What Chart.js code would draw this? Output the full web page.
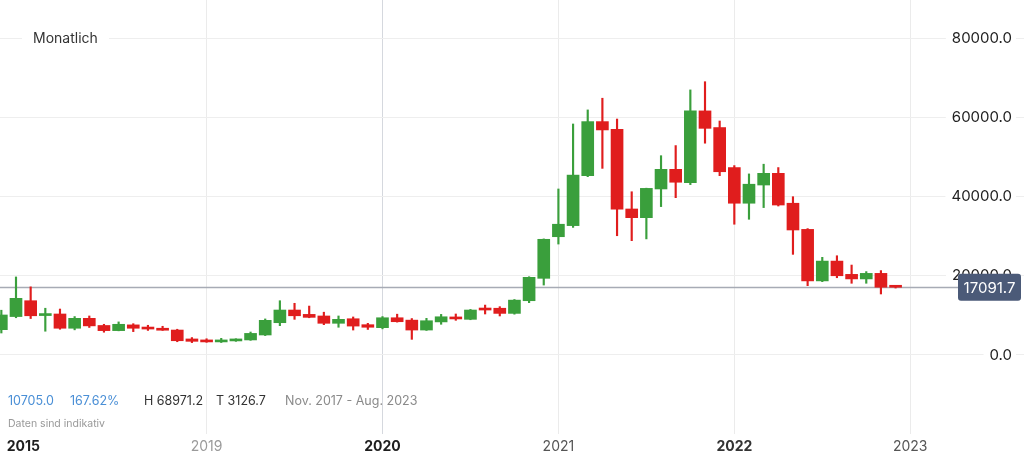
<!DOCTYPE html>
<html>
<head>
<meta charset="utf-8">
<script src="https://cdn.jsdelivr.net/npm/chart.js@4.4.0/dist/chart.umd.min.js"></script>
<style>
  html, body { margin: 0; padding: 0; background: #fff; }
  #wrap { position: relative; width: 1024px; height: 458px; font-family: Inter, 'Noto Sans', sans-serif; overflow: hidden; }
  #myChart { position: absolute; left: 0; top: 0; }
  .lbl { position: absolute; white-space: nowrap; line-height: 16px; }
</style>
</head>
<body>
<div id="wrap">
  <canvas id="myChart" width="1024" height="458"></canvas>
  <div class="lbl" style="left:22px;top:30px;padding:0 11px;background:#fff;font-size:14px;color:#333;">Monatlich</div>
  <div class="lbl" style="left:8px;top:393px;font-size:12.5px;color:#4a8fd6;">10705.0</div>
  <div class="lbl" style="left:70px;top:393px;font-size:12.5px;color:#4a8fd6;">167.62%</div>
  <div class="lbl" style="left:144px;top:393px;font-size:12.5px;color:#333;">H 68971.2</div>
  <div class="lbl" style="left:216px;top:393px;font-size:12.5px;color:#333;">T 3126.7</div>
  <div class="lbl" style="left:285px;top:393px;font-size:12.5px;color:#8a8a8a;">Nov. 2017 - Aug. 2023</div>
  <div class="lbl" style="left:8px;top:416px;font-size:10.5px;color:#999;">Daten sind indikativ</div>
</div>
<script>
// monthly candles, Nov 2017 - Dec 2022
var months = ['Nov 2017','Dec 2017',
  'Jan 2018','Feb 2018','Mar 2018','Apr 2018','May 2018','Jun 2018','Jul 2018','Aug 2018','Sep 2018','Oct 2018','Nov 2018','Dec 2018',
  'Jan 2019','Feb 2019','Mar 2019','Apr 2019','May 2019','Jun 2019','Jul 2019','Aug 2019','Sep 2019','Oct 2019','Nov 2019','Dec 2019',
  'Jan 2020','Feb 2020','Mar 2020','Apr 2020','May 2020','Jun 2020','Jul 2020','Aug 2020','Sep 2020','Oct 2020','Nov 2020','Dec 2020',
  'Jan 2021','Feb 2021','Mar 2021','Apr 2021','May 2021','Jun 2021','Jul 2021','Aug 2021','Sep 2021','Oct 2021','Nov 2021','Dec 2021',
  'Jan 2022','Feb 2022','Mar 2022','Apr 2022','May 2022','Jun 2022','Jul 2022','Aug 2022','Sep 2022','Oct 2022','Nov 2022','Dec 2022'];

var open = [6386.7, 9700,
  13700, 9950, 10350, 6750, 9250, 7450, 6150, 7600, 7050, 6700, 6300, 4050,
  3750, 3300, 3550, 3800, 5050, 8150, 11350, 10250, 9850, 8000, 9150, 7650,
  6900, 9400, 8800, 6300, 8350, 9600, 9000, 11700, 11800, 10500, 13700, 19350,
  29850, 32650, 45250, 58900, 56950, 36850, 34650, 41900, 46850, 43500, 61600, 57400,
  47300, 38300, 42900, 45850, 38300, 31700, 18700, 23700, 20350, 19200, 20600, 17350];

var high = [11300, 19700,
  17200, 11800, 11600, 9700, 9850, 7750, 8350, 7900, 7500, 7250, 6500, 4400,
  4100, 4200, 4100, 5800, 9100, 13700, 13050, 12350, 10800, 9850, 9600, 8000,
  9700, 10300, 9200, 9250, 10250, 10350, 11500, 12600, 12200, 14000, 19750, 29300,
  41900, 58300, 61850, 64800, 59550, 41200, 42100, 50300, 52850, 66900, 68971.2, 59050,
  47800, 45700, 48150, 47300, 39950, 31900, 24650, 25050, 22700, 21050, 21300, 17400];

var low = [5550, 9400,
  9200, 6000, 6500, 6350, 6950, 5750, 6100, 5900, 6200, 6200, 3350, 3126.7,
  3200, 3150, 3450, 3700, 4900, 7400, 9000, 9400, 7650, 7000, 6300, 6450,
  6600, 8300, 3950, 6200, 7750, 8750, 8900, 10350, 9850, 10300, 13200, 17650,
  28000, 32200, 45000, 47100, 30100, 28850, 29300, 37450, 39700, 43000, 53450, 45250,
  33000, 34250, 37200, 37600, 25400, 17500, 18500, 19500, 18100, 18100, 15400, 16900];

var close = [10100, 14300,
  9900, 10450, 6750, 9250, 7350, 6150, 7750, 6750, 6550, 6250, 3600, 3450,
  3300, 3800, 4050, 5450, 8750, 11350, 9900, 9500, 8000, 9000, 7300, 7000,
  9400, 8400, 6300, 8650, 9650, 9100, 11350, 11350, 10500, 13850, 19600, 29200,
  33000, 45400, 58900, 56800, 36800, 34650, 42050, 46850, 43600, 61600, 57200, 46250,
  38300, 43100, 45850, 37850, 31550, 18700, 23700, 20000, 19200, 20600, 17100, 17091.7];

// x axis labels (month index of each label)
var tickIndex = [1.5, 14, 26, 38, 50, 62];
var tickLabels = ['2015', '2019', '2020', '2021', '2022', '2023'];
var tickBold = [true, false, true, false, true, false];
var tickColors = ['#1e1e1e', '#9a9a9a', '#1e1e1e', '#555555', '#333333', '#555555'];

var yTicks = [0, 20000, 40000, 60000, 80000];
var lastPrice = 17091.7;

var green = '#3a9f3c';
var red = '#e01d1d';

var bodies = [];
var wicks = [];
var colors = [];
for (var i = 0; i < months.length; i++) {
    bodies.push({x: i, y: [open[i], close[i]]});
    wicks.push({x: i, y: [low[i], high[i]]});
    colors.push(close[i] >= open[i] ? green : red);
}

var fontFam = "Inter, 'Noto Sans', sans-serif";

var priceLine = {
    id: 'priceLine',
    beforeDatasetsDraw: function(chart) {
        var ctx = chart.ctx;
        var y = Math.round(chart.scales.y.getPixelForValue(lastPrice)) + 0.5;
        ctx.save();
        ctx.strokeStyle = '#a7abb5';
        ctx.lineWidth = 1.5;
        ctx.beginPath();
        ctx.moveTo(chart.chartArea.left, y);
        ctx.lineTo(958, y);
        ctx.stroke();
        ctx.restore();
    },
    afterDraw: function(chart) {
        var ctx = chart.ctx;
        var y = chart.scales.y.getPixelForValue(lastPrice);
        ctx.save();
        ctx.fillStyle = '#4b5a78';
        ctx.beginPath();
        ctx.roundRect(958, y - 13.5, 63, 27, 3);
        ctx.fill();
        ctx.fillStyle = '#ffffff';
        ctx.font = '15px ' + fontFam;
        ctx.textAlign = 'center';
        ctx.textBaseline = 'middle';
        ctx.fillText(lastPrice.toFixed(1), 989.5, y + 1);
        ctx.restore();
    }
};

var ctx = document.getElementById('myChart').getContext('2d');
var myChart = new Chart(ctx, {
    type: 'bar',
    data: {
        datasets: [{
            label: 'body',
            data: bodies,
            backgroundColor: colors,
            borderWidth: 0,
            barThickness: 12,
            minBarLength: 2,
            grouped: false,
            order: 0
        }, {
            label: 'wick',
            data: wicks,
            backgroundColor: colors,
            borderWidth: 0,
            barThickness: 1.5,
            grouped: false,
            order: 1
        }]
    },
    options: {
        responsive: false,
        animation: false,
        layout: { padding: 0 },
        plugins: {
            legend: { display: false },
            tooltip: { enabled: false }
        },
        scales: {
            x: {
                type: 'linear',
                offset: false,
                min: -0.0914,
                max: 69.76,
                border: { display: false },
                grid: {
                    offset: false,
                    drawTicks: false,
                    color: function(c) {
                        if (c.index === 0) return 'rgba(0,0,0,0)';
                        if (c.index === 2) return '#d5d8de';
                        return '#ebebeb';
                    }
                },
                afterBuildTicks: function(scale) {
                    scale.ticks = tickIndex.map(function(v) { return {value: v}; });
                },
                afterFit: function(scale) {
                    scale.height = 24;
                    scale.paddingLeft = 0;
                    scale.paddingRight = 0;
                },
                ticks: {
                    autoSkip: false,
                    maxRotation: 0,
                    padding: 4,
                    callback: function(v, idx) { return tickLabels[idx]; },
                    color: function(c) { return tickColors[c.index]; },
                    font: function(c) {
                        return {family: fontFam, size: 14, weight: tickBold[c.index] ? 'bold' : 'normal'};
                    }
                }
            },
            y: {
                type: 'linear',
                position: 'right',
                min: -19937,
                max: 89590,
                border: { display: false },
                grid: { drawTicks: false, color: '#eeeeee' },
                afterBuildTicks: function(scale) {
                    scale.ticks = yTicks.map(function(v) { return {value: v}; });
                },
                afterFit: function(scale) {
                    scale.width = 0;
                    scale.paddingTop = 0;
                    scale.paddingBottom = 0;
                },
                ticks: {
                    mirror: true,
                    padding: -12,
                    color: '#222222',
                    font: {family: fontFam, size: 15},
                    showLabelBackdrop: true,
                    backdropColor: '#ffffff',
                    backdropPadding: {top: 2, bottom: 2, left: 6, right: 4},
                    callback: function(v) { return Number(v).toFixed(1); }
                }
            }
        }
    },
    plugins: [priceLine]
});
</script>
</body>
</html>
